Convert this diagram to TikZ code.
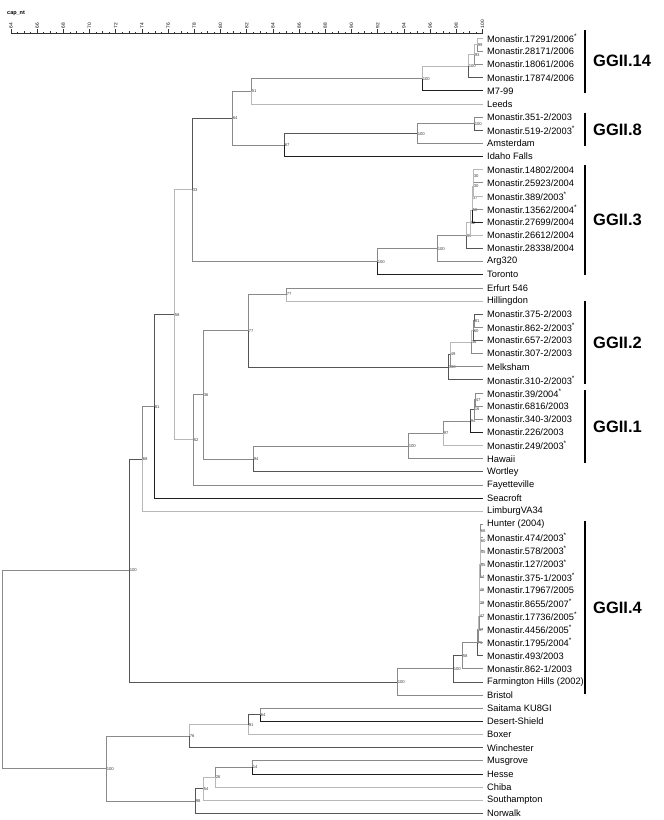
\documentclass[tikz,border=0pt]{standalone}
\usepackage{fontspec}
\setmainfont{Liberation Sans}
\definecolor{brBlack}{HTML}{1E1E1E}
\definecolor{brDark}{HTML}{555555}
\definecolor{brMid}{HTML}{8A8A8A}
\definecolor{brLight}{HTML}{B8B8B8}
\newcommand{\stn}{\textsuperscript{*}}
\tikzset{
  br/.style={line width=0.9pt},
  bk/.style={br, draw=brBlack},
  dk/.style={br, draw=brDark},
  md/.style={br, draw=brMid},
  lt/.style={br, draw=brLight},
  tiplabel/.style={anchor=west, inner xsep=4pt, inner ysep=1pt,
    font=\fontsize{9.3}{10}\selectfont},
  bslabel/.style={anchor=west, inner sep=0.6pt, text=black!75,
    font=\fontsize{4.2}{5}\selectfont},
  axisline/.style={line width=0.5pt, draw=black!80},
  axlabel/.style={rotate=90, anchor=west, inner sep=0.5pt,
    font=\fontsize{4.8}{5}\selectfont},
  grpbar/.style={line width=1.6pt, draw=black},
  grplabel/.style={anchor=west, inner sep=0pt,
    font=\bfseries\fontsize{16.5}{18}\selectfont},
}

\begin{document}
\begin{tikzpicture}[x=1pt, y=-0.996pt]
  \useasboundingbox (0,0) rectangle (664,823.3);

  % scale
  \node[anchor=west, inner sep=0pt, font=\bfseries\fontsize{5.5}{6}\selectfont] (title) at (7,13) {cap\_nt};
  \coordinate (axL) at (10.9,33);
  \coordinate (axR) at (483,33);
  \draw[axisline] (axL) -- (axR);
  \foreach \v in {64,66,...,100} {
    \draw[axisline] ({482.5-(100-\v)*13.1},33) -- ++(0,-3.5);
    \node[axlabel] (ax\v) at ({482.5-(100-\v)*13.1},29) {\v};
  }
  \foreach \v in {65,67,...,99}
    \draw[axisline] ({482.5-(100-\v)*13.1},33) -- ++(0,-2);
  \foreach \v in {64.5,65.5,...,99.5}
    \draw[axisline] ({482.5-(100-\v)*13.1},33) -- ++(0,-1.1);

  % tips
  \foreach \lab [count=\i from 0] in {Monastir.17291/2006\stn, Monastir.28171/2006,
      Monastir.18061/2006, Monastir.17874/2006, M7-99, Leeds, Monastir.351-2/2003,
      Monastir.519-2/2003\stn, Amsterdam, Idaho Falls, Monastir.14802/2004,
      Monastir.25923/2004, Monastir.389/2003\stn, Monastir.13562/2004\stn,
      Monastir.27699/2004, Monastir.26612/2004, Monastir.28338/2004, Arg320, Toronto,
      Erfurt 546, Hillingdon, Monastir.375-2/2003, Monastir.862-2/2003\stn,
      Monastir.657-2/2003, Monastir.307-2/2003, Melksham, Monastir.310-2/2003\stn,
      Monastir.39/2004\stn, Monastir.6816/2003, Monastir.340-3/2003, Monastir.226/2003,
      Monastir.249/2003\stn, Hawaii, Wortley, Fayetteville, Seacroft, LimburgVA34,
      Hunter (2004), Monastir.474/2003\stn, Monastir.578/2003\stn, Monastir.127/2003\stn,
      Monastir.375-1/2003\stn, Monastir.17967/2005, Monastir.8655/2007\stn,
      Monastir.17736/2005\stn, Monastir.4456/2005\stn, Monastir.1795/2004\stn,
      Monastir.493/2003, Monastir.862-1/2003, Farmington Hills (2002), Bristol,
      Saitama KU8GI, Desert-Shield, Boxer, Winchester, Musgrove, Hesse, Chiba,
      Southampton, Norwalk}
    \node[tiplabel] (t\i) at (483,{38.5+13.19*\i}) {\lab};

  % internal nodes with support values
  \foreach \n/\x/\y/\v in {a1/477/45.1/99, a2/474/55.0/93, a3/468/66.5/100,
      a4/422/78.9/100, a5/251/91.7/51, b1/474/124.2/100, b2/417/134.1/100,
      b3/284/145.7/67, a6/232/118.7/64, g1/473/177.0/30, g2/473/186.9/30,
      g3/472/198.4/37, g4/472/210.8/50, g5/470/223.6/52, g6/466/236.6/99,
      g7/437/249.6/100, g8/377/262.8/100, a7/192/190.7/33, e1/286/295.7/77,
      d1/474/322.1/81, d2/473/332.0/60, d3/471/343.5/36, d4/450/355.9/49,
      d5/448/368.7/100, e2/248/332.2/77, f1/475/401.2/47, f2/474/411.1/16,
      f3/470/422.7/94, f4/443/435.0/97, f5/408/447.8/100, f6/253/460.8/94,
      h1/203/396.5/36, h2/193/441.7/52, h3/174/316.2/58, h4/154/408.2/81,
      h5/142/460.8/68, c1/480/533.1/68, c2/480/543.0/60, c3/480/554.6/55,
      c4/480/566.9/55, c5/479/579.7/54, c6/479/592.7/46, c7/479/605.8/39,
      c8/479/618.9/47, c9/478/632.1/37, c10/477/645.3/75, c11/462/658.4/58,
      c12/453/671.6/100, c13/397/684.8/100, r2/129/572.8/100, i1/260/717.8/64,
      i2/248/727.7/91, i3/189/739.2/76, j1/252/770.5/14, j2/215/780.4/26,
      j3/203/792.0/54, j4/195/804.3/98, r1/106/771.8/100} {
    \coordinate (\n) at (\x,\y);
    \node[bslabel] (l\n) at (\n) {\v};
  }
  \coordinate (r0) at (2,672.3);

  % branches
  \foreach \p/\c/\s in {a1/t0.west/lt, a1/t1.west/md, a2/a1/lt, a2/t2.west/md,
      a3/a2/lt, a3/t3.west/dk, a4/a3/lt, a4/t4.west/bk, a5/a4/md, a5/t5.west/lt,
      b1/t6.west/md, b1/t7.west/dk, b2/b1/md, b2/t8.west/md, b3/b2/dk, b3/t9.west/bk,
      a6/a5/md, a6/b3/md,
      g1/t10.west/lt, g1/t11.west/md, g2/g1/lt, g2/t12.west/lt, g3/g2/lt,
      g3/t13.west/md, g4/g3/lt, g4/t14.west/bk, g5/g4/lt, g5/t15.west/lt,
      g6/g5/lt, g6/t16.west/dk, g7/g6/md, g7/t17.west/md, g8/g7/md, g8/t18.west/bk,
      a7/a6/dk, a7/g8/md,
      e1/t19.west/md, e1/t20.west/lt,
      d1/t21.west/dk, d1/t22.west/md, d2/d1/md, d2/t23.west/dk, d3/d2/lt,
      d3/t24.west/md, d4/d3/lt, d4/t25.west/md, d5/d4/dk, d5/t26.west/dk,
      e2/e1/md, e2/d5/dk,
      f1/t27.west/md, f1/t28.west/md, f2/f1/md, f2/t29.west/md, f3/f2/dk,
      f3/t30.west/bk, f4/f3/md, f4/t31.west/lt, f5/f4/md, f5/t32.west/md,
      f6/f5/md, f6/t33.west/dk,
      h1/e2/md, h1/f6/md, h2/h1/md, h2/t34.west/md, h3/a7/lt, h3/h2/lt,
      h4/h3/dk, h4/t35.west/bk, h5/h4/md, h5/t36.west/lt,
      c1/t37.west/md, c1/t38.west/md, c2/c1/lt, c2/t39.west/md, c3/c2/lt,
      c3/t40.west/md, c4/c3/lt, c4/t41.west/md, c5/c4/lt, c5/t42.west/md,
      c6/c5/lt, c6/t43.west/md, c7/c6/lt, c7/t44.west/md, c8/c7/lt, c8/t45.west/md,
      c9/c8/lt, c9/t46.west/md, c10/c9/md, c10/t47.west/dk, c11/c10/md,
      c11/t48.west/md, c12/c11/dk, c12/t49.west/dk, c13/c12/md, c13/t50.west/md,
      r2/h5/dk, r2/c13/dk,
      i1/t51.west/md, i1/t52.west/bk, i2/i1/dk, i2/t53.west/lt, i3/i2/lt,
      i3/t54.west/dk, j1/t55.west/md, j1/t56.west/bk, j2/j1/md, j2/t57.west/lt,
      j3/j2/lt, j3/t58.west/lt, j4/j3/dk, j4/t59.west/dk, r1/i3/md, r1/j4/md,
      r0/r2/md, r0/r1/md}
    \draw[\s] (\p) |- (\c);

  % genogroups
  \foreach \g/\ya/\yb in {14/30/93, 8/113/147, 3/166/276, 2/302/386, 1/392/465, 4/523/697} {
    \coordinate (gt\g) at (585,\ya);
    \coordinate (gb\g) at (585,\yb);
    \draw[grpbar] (gt\g) -- (gb\g);
    \node[grplabel] (gl\g) at (593,{(\ya+\yb)/2}) {GGII.\g};
  }
\end{tikzpicture}
\end{document}
